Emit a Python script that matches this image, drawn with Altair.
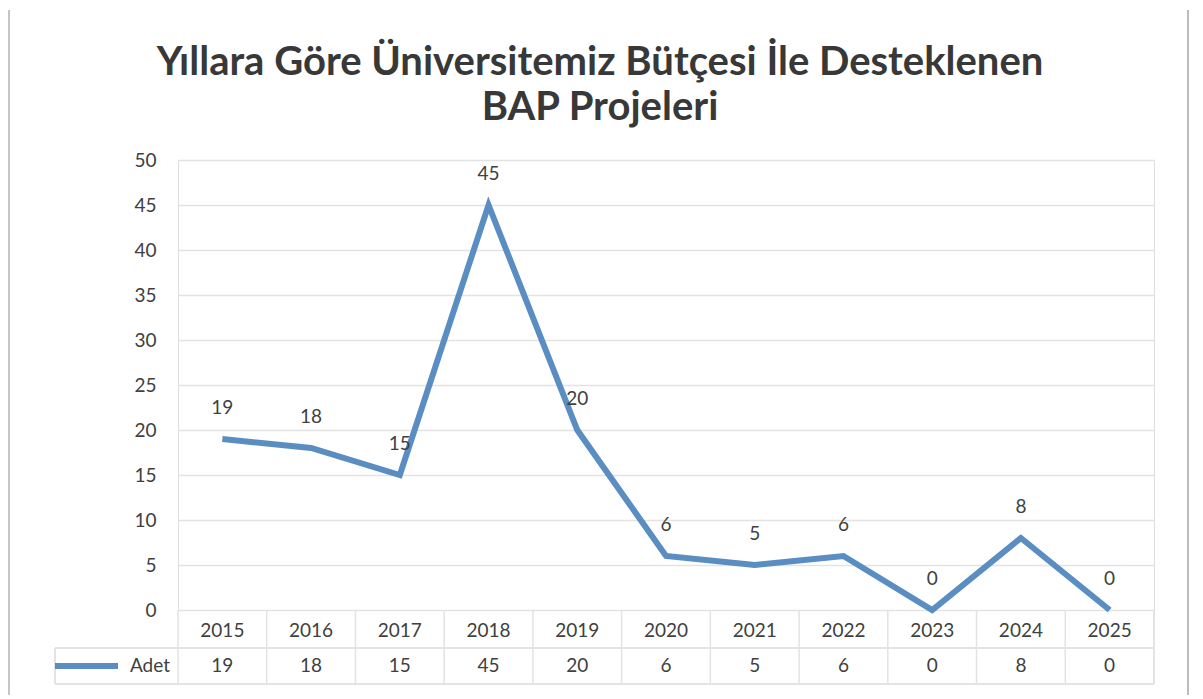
import altair as alt
import pandas as pd

years = ["2015", "2016", "2017", "2018", "2019", "2020", "2021", "2022", "2023", "2024", "2025"]
adet = [19, 18, 15, 45, 20, 6, 5, 6, 0, 8, 0]
title_lines = ["Yıllara Göre Üniversitemiz Bütçesi İle Desteklenen", "BAP Projeleri"]
series_name = "Adet"

df = pd.DataFrame({"Yil": years, "Adet": adet})

W, H = 976, 450
FONT = "Lato"
TXT = "#404040"
LINE = "#5a8dc1"
GRID = "#e3e3e3"

x = alt.X("Yil:N", sort=years, scale=alt.Scale(paddingInner=0, paddingOuter=0),
          axis=alt.Axis(title=None, labelAngle=0, labelFont=FONT, labelFontSize=19,
                        labelColor=TXT, labelPadding=20, ticks=False, domain=False,
                        bandPosition=0.5, labelAlign="center"))
y = alt.Y("Adet:Q", scale=alt.Scale(domain=[0, 50]),
          axis=alt.Axis(title=None, values=list(range(0, 51, 5)), labelFont=FONT,
                        labelFontSize=19, labelColor=TXT, labelPadding=22, ticks=False,
                        domain=False, gridColor=GRID, gridWidth=1.5))

base = alt.Chart(df)

line = base.mark_line(color=LINE, strokeWidth=6, strokeJoin="miter").encode(x=x, y=y)

labels = base.mark_text(font=FONT, fontSize=19, color=TXT, dy=-31, baseline="middle").encode(
    x=alt.X("Yil:N", sort=years), y="Adet:Q", text="Adet:Q")

# data table
vrules = base.mark_rule(color=GRID, strokeWidth=1.5).encode(
    x=alt.X("Yil:N", sort=years, bandPosition=0), y=alt.value(H), y2=alt.value(H + 74))
right_rule = base.mark_rule(color=GRID, strokeWidth=1.5).encode(
    x=alt.value(W), y=alt.value(H), y2=alt.value(H + 74))
left_rule = base.mark_rule(color=GRID, strokeWidth=1.5).encode(
    x=alt.value(-123), y=alt.value(H + 38), y2=alt.value(H + 74))
hrule1 = base.mark_rule(color=GRID, strokeWidth=1.5).encode(
    x=alt.value(-123), x2=alt.value(W), y=alt.value(H + 38))
hrule2 = base.mark_rule(color=GRID, strokeWidth=1.5).encode(
    x=alt.value(-123), x2=alt.value(W), y=alt.value(H + 74))

# chart area frame (left / right edges)
frame_l = base.mark_rule(color="#c4c4c4", strokeWidth=1.5).encode(
    x=alt.value(-169), y=alt.value(-150), y2=alt.value(H + 85))
frame_r = base.mark_rule(color="#bdbdbd", strokeWidth=1.5).encode(
    x=alt.value(W + 34), y=alt.value(-150), y2=alt.value(H + 85))

values_row = base.mark_text(font=FONT, fontSize=19, color=TXT, baseline="middle").encode(
    x=alt.X("Yil:N", sort=years), y=alt.value(H + 56), text="Adet:Q")

leg_df = pd.DataFrame({"name": [series_name]})
leg_line = alt.Chart(leg_df).mark_rule(color=LINE, strokeWidth=6).encode(
    x=alt.value(-123), x2=alt.value(-60), y=alt.value(H + 56))
leg_text = alt.Chart(leg_df).mark_text(font=FONT, fontSize=19, color=TXT, align="right",
                                       baseline="middle").encode(
    x=alt.value(-8), y=alt.value(H + 56), text="name:N")

chart = alt.layer(frame_l, frame_r, vrules, right_rule, left_rule, hrule1, hrule2, line, labels,
                  values_row, leg_line, leg_text).properties(
    width=W, height=H,
    title=alt.TitleParams(text=title_lines, font=FONT, fontSize=40, fontWeight="bold",
                          color="#383838", anchor="middle", dx=-66, offset=-119, lineHeight=45),
    padding={"left": 170, "top": 152, "right": 40, "bottom": 85},
    autosize=alt.AutoSizeParams(type="none"),
).configure_view(stroke=None).configure(background="white")

chart.save("out.html", embed_options={"renderer": "svg", "actions": False})
